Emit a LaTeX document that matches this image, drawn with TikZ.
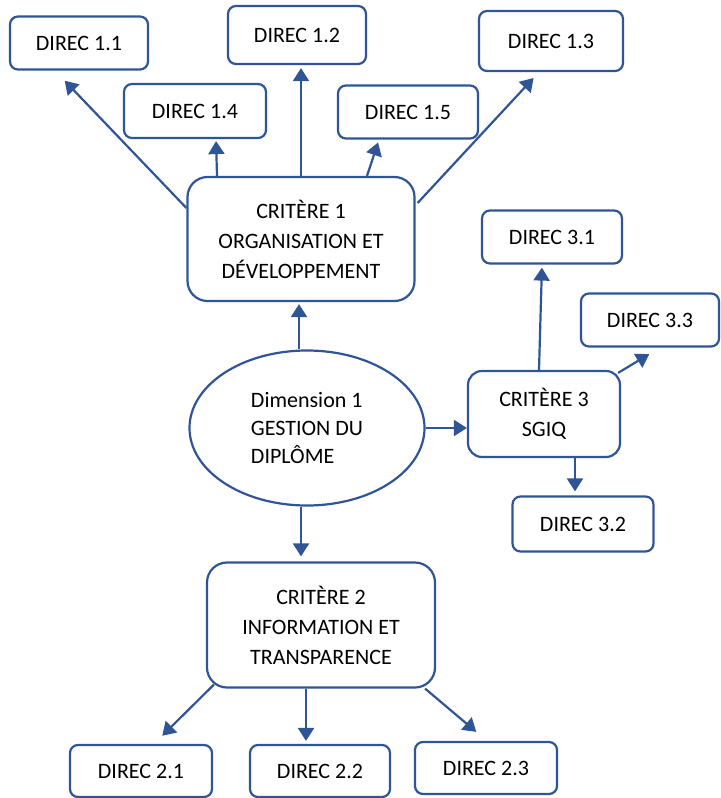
\documentclass[tikz,border=0pt]{standalone}
\usepackage{fontspec}
\setmainfont{Carlito}
\usetikzlibrary{shapes.geometric, arrows.meta, calc}
\definecolor{wordblue}{RGB}{47,85,151}

\begin{document}
\begin{tikzpicture}[x=0.5pt, y=-0.5pt,
		box/.style={
			draw=wordblue,
			line width=1.1pt,
			rounded corners=4pt,
			text centered,
			align=center,
			inner sep=0pt,
			minimum width=69pt,
			minimum height=26.5pt,
			font=\fontsize{11}{15}\selectfont,
		}, bigbox/.style={
			box,
			rounded corners=10pt,
		}, dimension/.style={
			draw=wordblue,
			ellipse,
			line width=1.1pt,
			align=left,
			minimum width=117.5pt,
			minimum height=77.5pt,
			font=\fontsize{11}{14}\selectfont,
		}, link/.style={
			wordblue,
			line width=1.1pt,
			-{Triangle[length=6.5pt, width=8pt]},
		}, ]

\useasboundingbox (0,0) rectangle (720,798);

% ------ Dimension ------- %
\draw (307,428) node[dimension](dim){Dimension 1 \\ GESTION DU \\ DIPLÔME};

% -------- Critere 1 --------- %
\draw
(301,239) node[bigbox, minimum width=113.5pt, minimum height=62pt](crit1){CRITÈRE 1 \\ ORGANISATION ET \\ DÉVELOPPEMENT}
(79,43) node[box](direc11){DIREC 1.1}
(297,35) node[box, minimum height=29pt](direc12){DIREC 1.2}
(551,41) node[box, minimum width=72pt, minimum height=30pt](direc13){DIREC 1.3}
(195,111) node[box, minimum width=71pt, minimum height=27pt](direc14){DIREC 1.4}
(408,112) node[box, minimum width=70pt](direc15){DIREC 1.5}
;

\draw [link, shorten >=7pt] ($(crit1.west)+(0,-31)$) -- ($(direc11.south)+(-24,0)$);
\draw [link, shorten >=1pt] ($(crit1.north)+(-84,0)$) -- ($(direc14.south)+(21,0)$);
\draw [link, shorten >=1.5pt] (crit1.north) -- (crit1.north |- direc12.south);
\draw [link, shorten >=1.5pt] ($(crit1.north)+(66,0)$) -- ($(direc15.south)+(-29,0)$);
\draw [link, shorten >=4pt] ($(crit1.east)+(2,-36)$) -- ($(direc13.south)+(-12,0)$);
\draw [link, shorten >=1pt] ($(dim.north)+(-8,0)$) -- ($(crit1.south)+(-2,0)$);

% -------- Critere 3 --------- %
\draw
(544,414) node[box, rounded corners=7pt, minimum width=76pt, minimum height=43pt](crit3){CRITÈRE 3 \\ SGIQ}
(552,237) node[box, minimum width=70pt](direc31){DIREC 3.1}
(650,320) node[box](direc33){DIREC 3.3}
(583,524) node[box, minimum width=70.5pt, minimum height=27.5pt](direc32){DIREC 3.2}
;

\draw [link] (dim.east) -- (dim.east -| crit3.west);
\draw [link, shorten >=1.5pt] ($(crit3.north)+(-5,0)$) -- ($(direc31.south)+(-10,0)$);
\draw [link, shorten >=6.3pt] ($(crit3.north east)+(-3,3)$) -- ($(direc33.south)+(10,0)$);
\draw [link, shorten >=2pt] ($(crit3.south)+(31,0)$) -- ($(direc32.north)+(-8,0)$);

% -------- Critere 2 --------- %
\draw
(321,625) node[bigbox, minimum width=114pt, minimum height=62.5pt](crit2){CRITÈRE 2 \\ INFORMATION ET \\ TRANSPARENCE}
(141,771) node[box, minimum width=71pt, minimum height=26pt](direc21){DIREC 2.1}
(320,771) node[box, minimum width=70pt, minimum height=26pt](direc22){DIREC 2.2}
(486,768) node[box, minimum width=71pt, minimum height=26pt](direc23){DIREC 2.3}
;

\draw [link, shorten >=2.5pt] ($(dim.south)+(-6,0)$) -- ($(crit2.north)+(-20,0)$);
\draw [link, shorten >=5.8pt] ($(crit2.south west)+(8,-4)$) -- ($(direc21.north)+(13,0)$);
\draw [link, shorten >=1.5pt] ($(crit2.south)+(-15,0)$) -- ($(direc22.north)+(-14,0)$);
\draw [link, shorten >=7pt] ($(crit2.south east)+(-11,0)$) -- ($(direc23.north)+(1,0)$);

\end{tikzpicture}
\end{document}
